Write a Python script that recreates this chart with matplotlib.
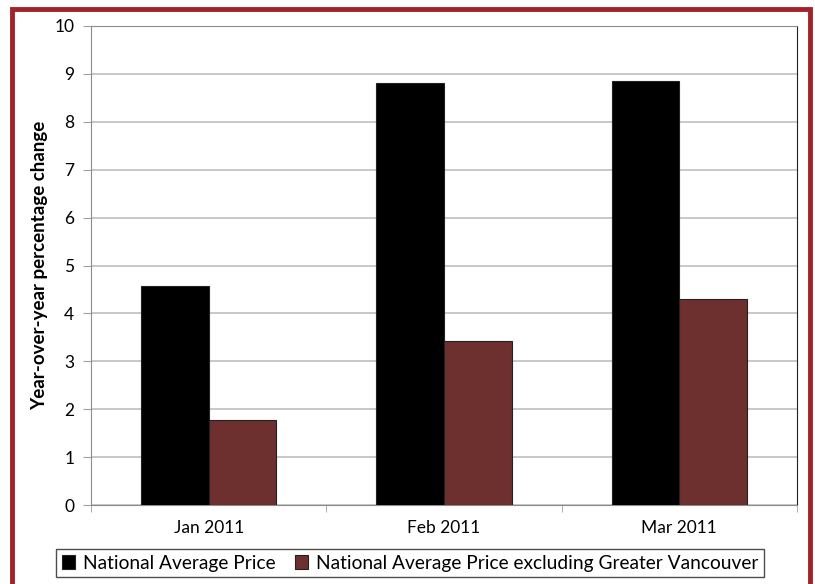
import numpy as np
import matplotlib.pyplot as plt
from matplotlib.patches import Rectangle

# data
months = ["Jan 2011", "Feb 2011", "Mar 2011"]
national = [4.57, 8.80, 8.86]
excl_vancouver = [1.77, 3.43, 4.30]
series_names = ["National Average Price",
                "National Average Price excluding Greater Vancouver"]

plt.rcParams['font.family'] = ['Lato', 'DejaVu Sans']

fig = plt.figure(figsize=(8.15, 5.84), dpi=100)
ax = fig.add_axes([91/815, 1 - 505/584, (797 - 91)/815, (505 - 26)/584])

x = np.arange(len(months))
w = 0.287
b1 = ax.bar(x - w/2, national, w, color='black', edgecolor='#222222', linewidth=0.8,
            label=series_names[0], zorder=3)
b2 = ax.bar(x + w/2, excl_vancouver, w, color='#6e2f2f', edgecolor='#222222', linewidth=0.8,
            label=series_names[1], zorder=3)

ax.set_xlim(-0.5, len(months) - 0.5)
ax.set_ylim(0, 10)
ax.set_yticks(range(0, 11))
ax.yaxis.grid(True, color='#bfbfbf', linewidth=1.2, zorder=0)
ax.set_axisbelow(True)

ax.set_xticks(x)
ax.set_xticklabels(months, fontsize=12.5)
ax.set_xticks(np.arange(-0.5, len(months)), minor=True)
ax.tick_params(axis='x', which='major', length=0, pad=11)
ax.tick_params(axis='x', which='minor', length=5, color='#a0a0a0', direction='out')
ax.tick_params(axis='y', length=6, color='#a0a0a0', labelsize=12.5, pad=6)

for s in ['left', 'bottom', 'top']:
    ax.spines[s].set_color('#8c8c8c')
ax.spines['right'].set_color('#202020')

ax.set_ylabel("Year-over-year percentage change", fontsize=13.5, fontweight='bold')
ax.yaxis.set_label_coords(-0.061, 0.5)

leg = fig.legend(handles=[b1, b2], loc='center', bbox_to_anchor=(410/815, 1 - 563/584),
                 ncol=2, fontsize=13.8, frameon=True, fancybox=False, edgecolor='#202020',
                 handlelength=0.7, handleheight=0.7, handletextpad=0.4, columnspacing=1.0,
                 borderpad=0.3)
leg.get_frame().set_linewidth(1.0)

# red frame around the whole chart
fig.patches.append(Rectangle((12/815, -0.05), (810 - 12)/815, 1.05 - 9/584,
                             transform=fig.transFigure, fill=False,
                             edgecolor='#a4222a', linewidth=3.5))

fig.savefig("out.png", dpi=100)
